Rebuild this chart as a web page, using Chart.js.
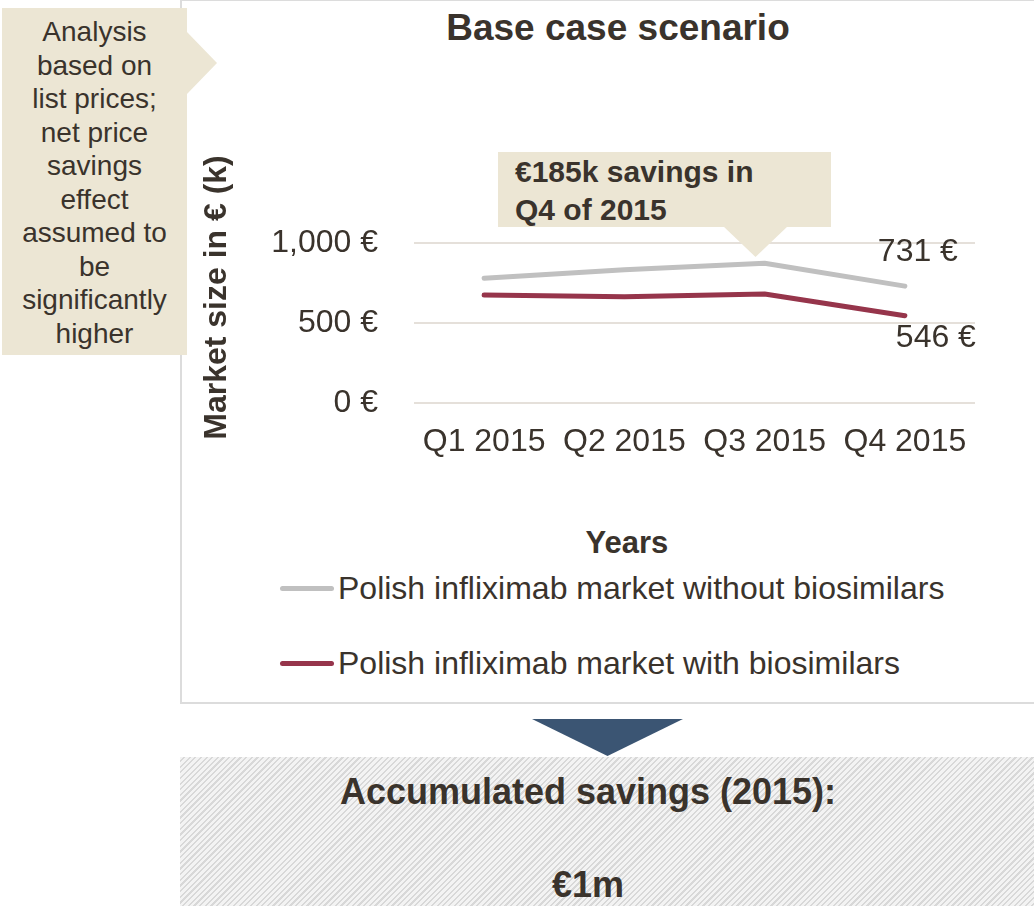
<!DOCTYPE html>
<html>
<head>
<meta charset="utf-8">
<title>Base case scenario</title>
<script src="https://cdn.jsdelivr.net/npm/chart.js@4.4.1/dist/chart.umd.min.js"></script>
<style>
  html, body { margin: 0; padding: 0; }
  body {
    width: 1034px; height: 906px; overflow: hidden; position: relative; background: #fff;
    font-family: 'Liberation Sans', Arial, sans-serif; color: #3a332c;
  }
  .frame { position: absolute; left: 180px; top: -1px; width: 900px; height: 701px; border: 2px solid #dcdcdc; }
  .note {
    position: absolute; left: 2px; top: 8px; width: 185px; height: 347px; background: #ece6d4;
    box-sizing: border-box; padding-top: 7px; text-align: center; font-size: 28px; line-height: 33.5px;
  }
  .note-tip {
    position: absolute; left: 187px; top: 32px; width: 30px; height: 62px; background: #ece6d4;
    clip-path: polygon(0 0, 100% 50%, 0 100%);
  }
  .heading { position: absolute; left: 418px; width: 400px; top: 6px; text-align: center;
    font-size: 37px; font-weight: bold; line-height: 44px; }
  #chart-wrap { position: absolute; left: 181px; top: 1px; width: 853px; height: 470px; }
  .callout {
    position: absolute; left: 498px; top: 152px; width: 333px; height: 75px; background: #ece6d4;
    box-sizing: border-box; padding: 1px 0 0 17px; font-size: 30px; font-weight: bold; line-height: 38px;
  }
  .callout-tip {
    position: absolute; left: 723px; top: 226px; width: 65px; height: 31px; background: #ece6d4;
    clip-path: polygon(0 0, 100% 0, 50% 100%);
  }
  .axis-name { position: absolute; left: 527px; width: 200px; top: 525px; text-align: center;
    font-size: 31px; font-weight: bold; line-height: 36px; }
  #legend { position: absolute; left: 280px; top: 568px; }
  #legend .row { display: flex; align-items: center; height: 40px; margin-bottom: 35px;
    font-size: 32px; white-space: nowrap; }
  #legend .swatch { width: 54px; height: 5px; border-radius: 3px; margin-right: 4px; }
  .down {
    position: absolute; left: 532px; top: 719px; width: 151px; height: 37px; background: #3b5573;
    clip-path: polygon(0 0, 100% 0, 50% 100%);
  }
  .summary {
    position: absolute; left: 180px; top: 757px; width: 854px; height: 149px;
    background: repeating-linear-gradient(135deg, #f3f3f3 0px, #f3f3f3 2.4px, #d8d8d8 2.4px, #d8d8d8 4px);
  }
  .summary div { position: absolute; left: 108px; width: 600px; text-align: center;
    font-size: 36px; font-weight: bold; line-height: 40px; }
</style>
</head>
<body>
<div class="frame"></div>
<div class="heading">Base case scenario</div>
<div id="chart-wrap"><canvas id="marketChart"></canvas></div>
<div class="note">Analysis<br>based on<br>list prices;<br>net price<br>savings<br>effect<br>assumed to<br>be<br>significantly<br>higher</div>
<div class="note-tip"></div>
<div class="callout">€185k savings in<br>Q4 of 2015</div>
<div class="callout-tip"></div>
<div class="axis-name">Years</div>
<div id="legend"></div>
<div class="down"></div>
<div class="summary">
  <div style="top:15px">Accumulated savings (2015):</div>
  <div style="top:108px">€1m</div>
</div>

<script>
// quarterly market size, thousands of euro
const quarters = ['Q1 2015', 'Q2 2015', 'Q3 2015', 'Q4 2015'];
const withoutBiosimilars = [780, 833, 874, 731];
const withBiosimilars = [676, 664, 682, 546];
const yTicks = [0, 500, 1000];

const textColor = '#3a332c';
const fontFamily = "'Liberation Sans', Arial, sans-serif";
Chart.defaults.font.family = fontFamily;
Chart.defaults.color = textColor;

// offsets of the end-value labels from the last point of each line
const endLabelOffsets = [[13, -34], [31, 22]];

const endLabels = {
    id: 'endLabels',
    afterDatasetsDraw(chart) {
        const ctx = chart.ctx;
        ctx.save();
        ctx.font = '32px ' + fontFamily;
        ctx.fillStyle = textColor;
        ctx.textAlign = 'center';
        ctx.textBaseline = 'middle';
        chart.data.datasets.forEach((ds, i) => {
            const pts = chart.getDatasetMeta(i).data;
            const last = pts[pts.length - 1];
            const value = ds.data[ds.data.length - 1];
            ctx.fillText(value + ' €', last.x + endLabelOffsets[i][0], last.y + endLabelOffsets[i][1]);
        });
        ctx.restore();
    }
};

const chart = new Chart(document.getElementById('marketChart'), {
    type: 'line',
    data: {
        labels: quarters,
        datasets: [{
            label: 'Polish infliximab market without biosimilars',
            data: withoutBiosimilars,
            borderColor: '#c0c0c0',
            borderWidth: 5
        }, {
            label: 'Polish infliximab market with biosimilars',
            data: withBiosimilars,
            borderColor: '#96354b',
            borderWidth: 5
        }]
    },
    options: {
        responsive: true,
        maintainAspectRatio: false,
        animation: false,
        // extra room above the 1,000 line holds the savings callout
        layout: { padding: { top: 191, right: 59, bottom: 0, left: 0 } },
        elements: {
            point: { radius: 0, hoverRadius: 0 },
            line: { tension: 0, borderCapStyle: 'round', borderJoinStyle: 'round' }
        },
        plugins: {
            legend: { display: false },
            tooltip: { enabled: false }
        },
        scales: {
            x: {
                type: 'category',
                offset: true,
                grid: { display: false },
                border: { display: false },
                ticks: { font: { size: 32 }, padding: 12, maxRotation: 0, autoSkip: false },
                afterFit(scale) { scale.height = 68; }
            },
            y: {
                min: yTicks[0],
                max: 1320,
                grid: { color: '#e5e0da', lineWidth: 2, drawTicks: false },
                border: { display: false },
                ticks: {
                    padding: 36,
                    font: { size: 32 },
                    callback: v => v.toLocaleString('en-US') + ' €'
                },
                afterBuildTicks(scale) {
                    scale.ticks = yTicks.map(v => ({ value: v }));
                },
                title: {
                    display: true,
                    text: 'Market size in € (k)',
                    font: { size: 32, weight: 'bold' },
                    padding: { top: 17, bottom: 0 }
                },
                afterFit(scale) { scale.width = 233; }
            }
        }
    },
    plugins: [endLabels]
});

// legend rows built from the datasets
const legendBox = document.getElementById('legend');
chart.data.datasets.forEach(ds => {
    const row = document.createElement('div');
    row.className = 'row';
    const swatch = document.createElement('span');
    swatch.className = 'swatch';
    swatch.style.background = ds.borderColor;
    row.appendChild(swatch);
    row.appendChild(document.createTextNode(ds.label));
    legendBox.appendChild(row);
});
</script>
</body>
</html>
